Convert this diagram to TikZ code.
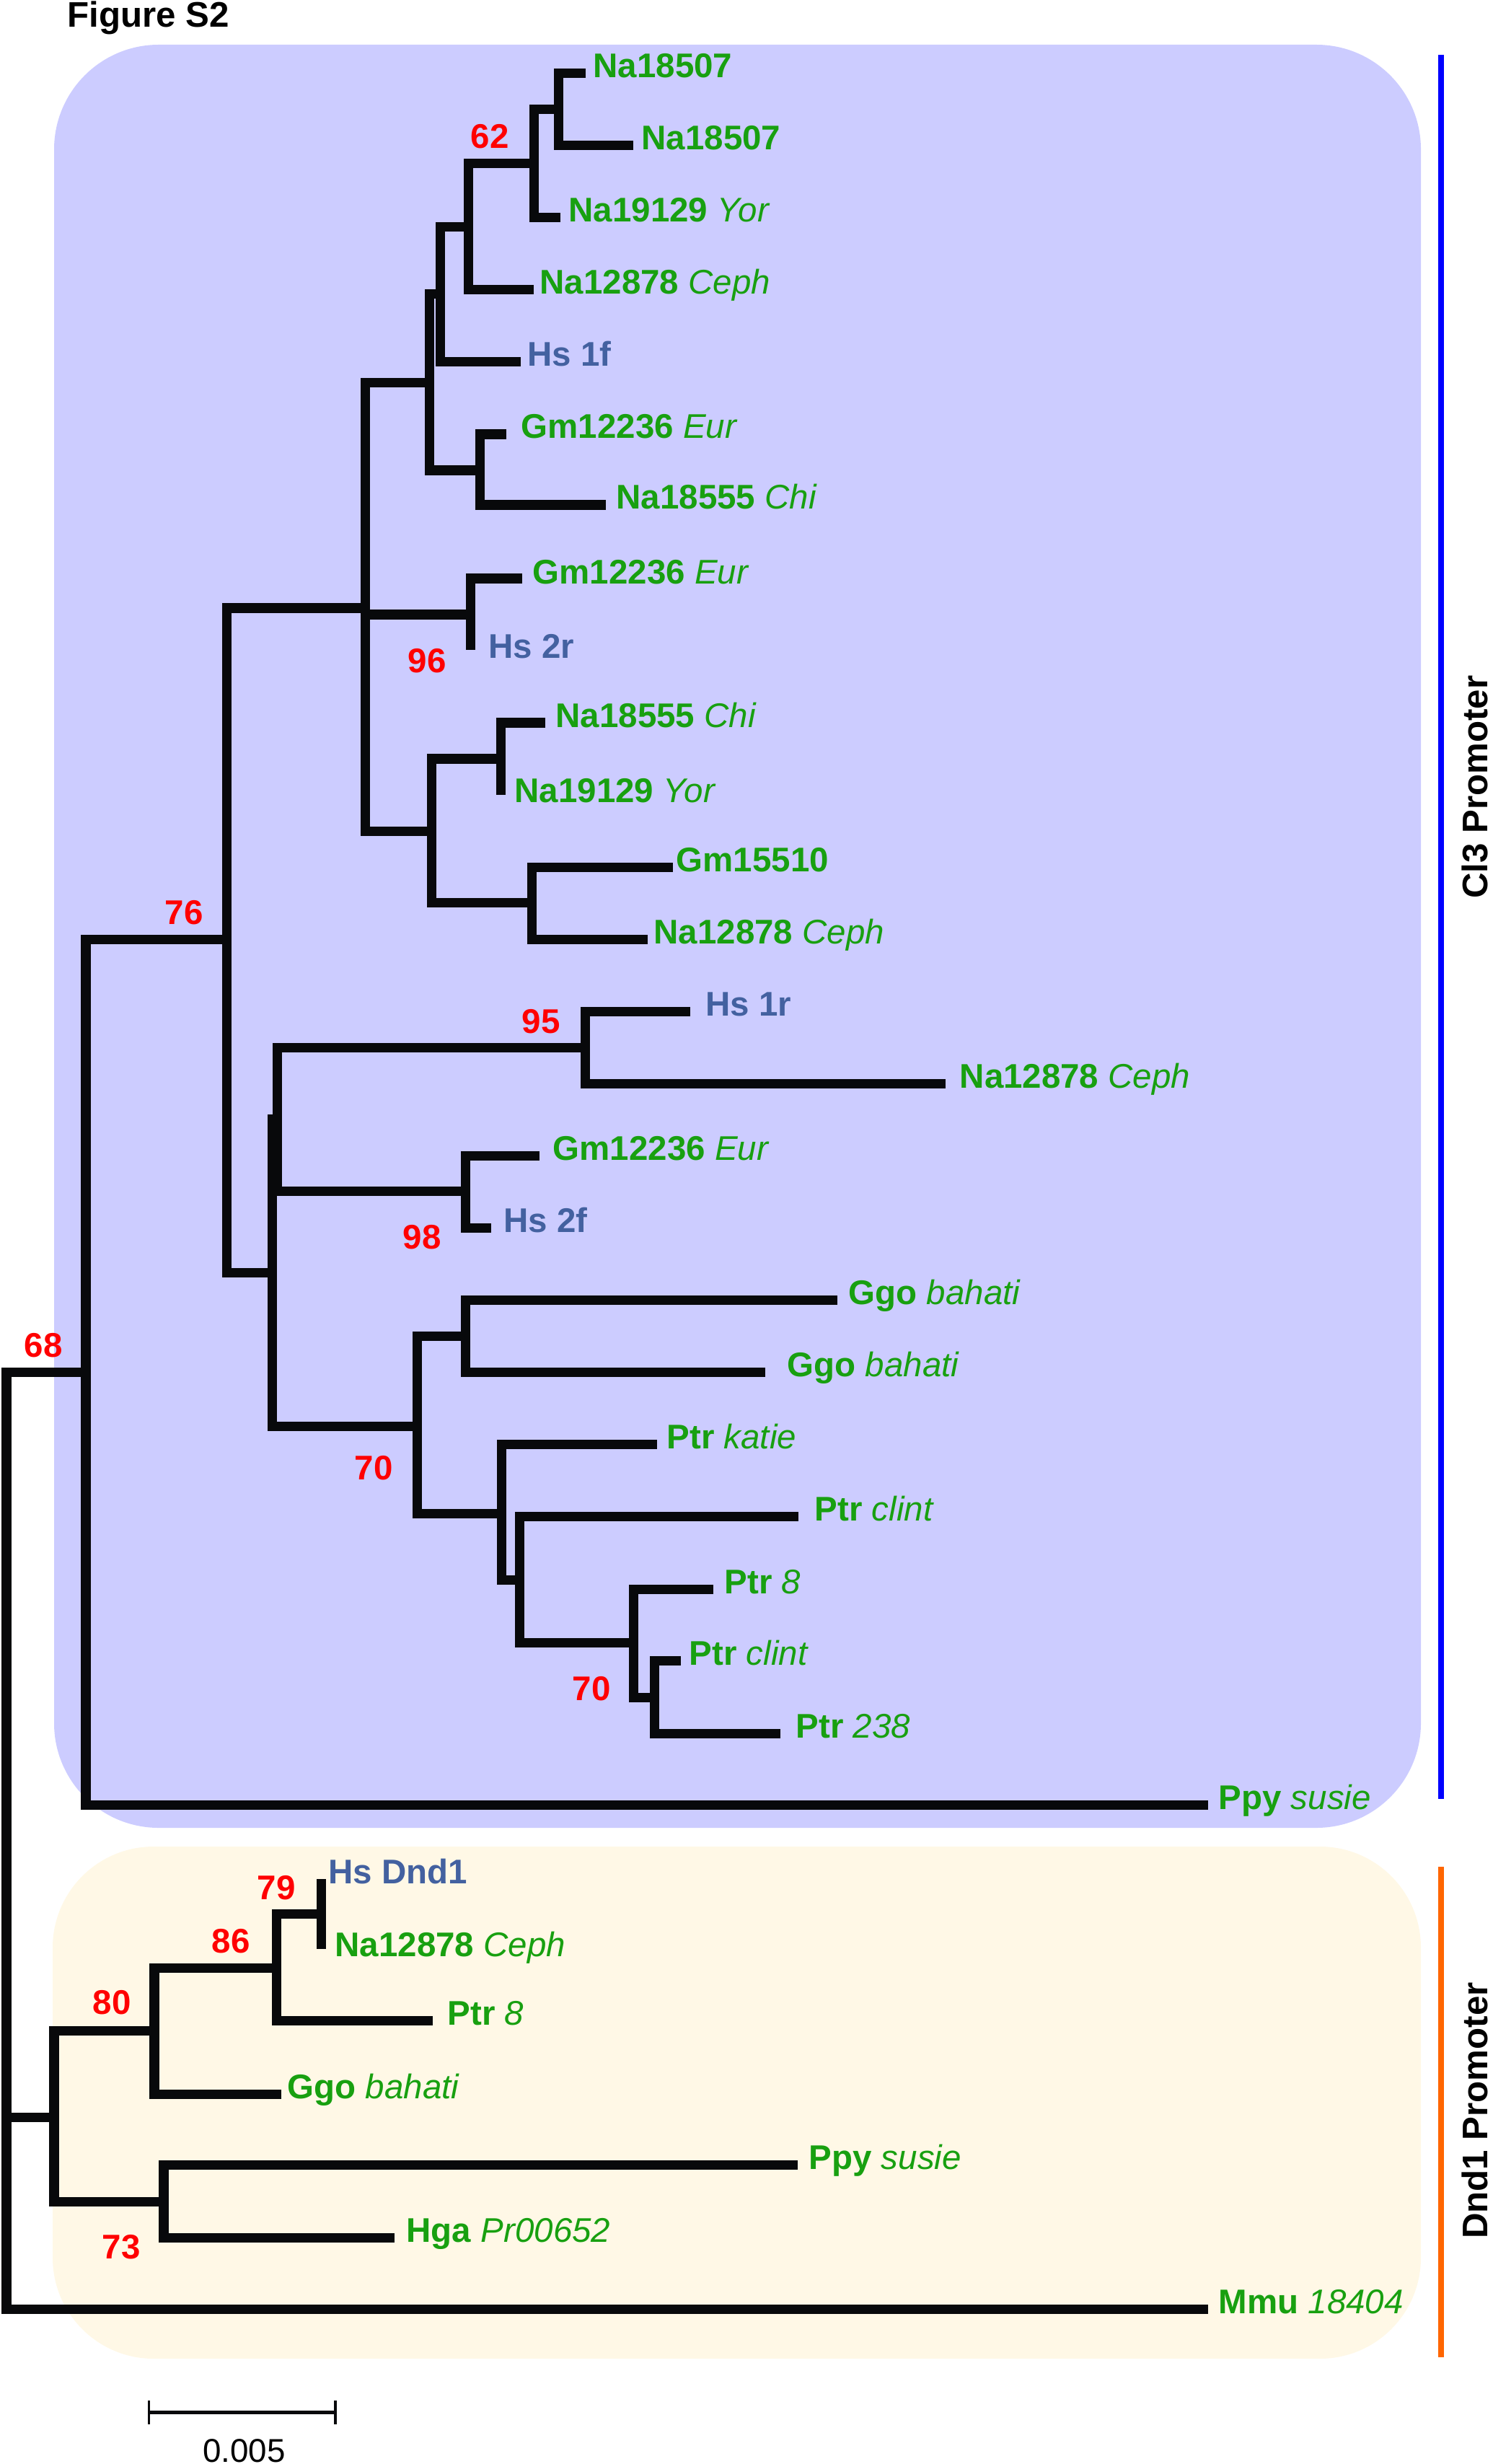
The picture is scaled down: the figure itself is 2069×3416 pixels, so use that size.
\documentclass[tikz,border=0pt]{standalone}
\usepackage{fontspec}
\setmainfont{Liberation Sans}
\definecolor{treeblack}{RGB}{8,9,11}
\definecolor{labgreen}{RGB}{24,160,16}
\definecolor{hsblue}{RGB}{67,97,160}
\definecolor{bsred}{RGB}{255,0,0}
\definecolor{cladeblue}{RGB}{204,204,255}
\definecolor{cladeyellow}{RGB}{255,248,230}
\definecolor{barblue}{RGB}{0,0,255}
\definecolor{barorange}{RGB}{255,102,0}
\begin{document}
\begin{tikzpicture}[x=0.01cm,y=-0.01cm,
  br/.style={line width=0.13cm, draw=treeblack, line join=miter},
  lab/.style={anchor=base west, inner sep=0pt, font=\fontsize{13.5}{16}\selectfont, text=labgreen},
  hslab/.style={lab, text=hsblue},
  bsv/.style={anchor=base west, inner sep=0pt, font=\bfseries\fontsize{13.5}{16}\selectfont, text=bsred},
  barlab/.style={rotate=90, anchor=base, inner sep=0pt, font=\bfseries\fontsize{14}{16}\selectfont, text=black}]
\useasboundingbox (0,0) rectangle (2069,3416);
% clade backgrounds
\fill[cladeblue, rounded corners=1.45cm] (75,62) rectangle (1970,2534);
\fill[cladeyellow, rounded corners=1.4cm] (73,2560) rectangle (1970,3270);
% side bars
\coordinate (bb1) at (1998,76); \coordinate (bb2) at (1998,2494);
\coordinate (ob1) at (1998,2588); \coordinate (ob2) at (1998,3268);
\draw[line width=0.08cm, barblue] (bb1) -- (bb2);
\draw[line width=0.08cm, barorange] (ob1) -- (ob2);
\node[barlab] (cl3) at (2062,1091) {Cl3 Promoter};
\node[barlab] (dnd) at (2062,2926) {Dnd1 Promoter};
% title
\node[anchor=base west, inner sep=0pt, font=\bfseries\fontsize{14}{16}\selectfont] (title) at (93,38) {Figure S2};
% leaf tips
\coordinate (t1) at (812,102);
\coordinate (t2) at (878,202);
\coordinate (t3) at (777,302);
\coordinate (t4) at (740,402);
\coordinate (t5) at (722,502);
\coordinate (t6) at (702,602);
\coordinate (t7) at (840,700);
\coordinate (t8) at (724,802);
\coordinate (t9) at (652,901);
\coordinate (t10) at (756,1002);
\coordinate (t11) at (694,1102);
\coordinate (t12) at (933,1202);
\coordinate (t13) at (898,1302);
\coordinate (t14) at (957,1402);
\coordinate (t15) at (1311,1502);
\coordinate (t16) at (748,1602);
\coordinate (t17) at (681,1702);
\coordinate (t18) at (1161,1802);
\coordinate (t19) at (1061,1902);
\coordinate (t20) at (911,2002);
\coordinate (t21) at (1107,2102);
\coordinate (t22) at (989,2203);
\coordinate (t23) at (944,2302);
\coordinate (t24) at (1082,2403);
\coordinate (t25) at (1675,2502);
\coordinate (t26) at (445,2605);
\coordinate (t27) at (445,2702);
\coordinate (t28) at (600,2801);
\coordinate (t29) at (390,2903);
\coordinate (t30) at (1106,3001);
\coordinate (t31) at (547,3102);
\coordinate (t32) at (1675,3201);
% internal nodes
\coordinate (n1) at (774,152);
\coordinate (n2) at (740,227);
\coordinate (n3) at (649,315);
\coordinate (n4) at (610,408);
\coordinate (n5) at (665,652);
\coordinate (n6) at (595,531);
\coordinate (n7) at (652,852);
\coordinate (n8) at (694,1052);
\coordinate (n9) at (737,1251);
\coordinate (n10) at (598,1152);
\coordinate (n11) at (506,843);
\coordinate (n12) at (811,1452);
\coordinate (n13) at (645,1651);
\coordinate (n14) at (384,1551);
\coordinate (n15) at (377,1764);
\coordinate (n16) at (645,1852);
\coordinate (n17) at (907,2353);
\coordinate (n18) at (878,2277);
\coordinate (n19) at (720,2190);
\coordinate (n20) at (695,2098);
\coordinate (n21) at (578,1977);
\coordinate (n22) at (314,1302);
\coordinate (n23) at (119,1902);
\coordinate (d1) at (445,2653);
\coordinate (d2) at (383,2728);
\coordinate (d3) at (214,2815);
\coordinate (d4) at (227,3052);
\coordinate (d5) at (75,2935);
\coordinate (root) at (9,2411);
% branches
\draw[br] (n1) |- (t1); \draw[br] (n1) |- (t2);
\draw[br] (n2) |- (n1); \draw[br] (n2) |- (t3);
\draw[br] (n3) |- (n2); \draw[br] (n3) |- (t4);
\draw[br] (n4) |- (n3); \draw[br] (n4) |- (t5);
\draw[br] (n5) |- (t6); \draw[br] (n5) |- (t7);
\draw[br] (n6) |- (n4); \draw[br] (n6) |- (n5);
\draw[br] (n7) |- (t8); \draw[br] (n7) |- (t9);
\draw[br] (n8) |- (t10); \draw[br] (n8) |- (t11);
\draw[br] (n9) |- (t12); \draw[br] (n9) |- (t13);
\draw[br] (n10) |- (n8); \draw[br] (n10) |- (n9);
\draw[br] (n11) |- (n6); \draw[br] (n11) |- (n7); \draw[br] (n11) |- (n10);
\draw[br] (n12) |- (t14); \draw[br] (n12) |- (t15);
\draw[br] (n13) |- (t16); \draw[br] (n13) |- (t17);
\draw[br] (n14) |- (n12); \draw[br] (n14) |- (n13);
\draw[br] (n15) |- (n14); \draw[br] (n15) |- (n21);
\draw[br] (n16) |- (t18); \draw[br] (n16) |- (t19);
\draw[br] (n17) |- (t23); \draw[br] (n17) |- (t24);
\draw[br] (n18) |- (t22); \draw[br] (n18) |- (n17);
\draw[br] (n19) |- (t21); \draw[br] (n19) |- (n18);
\draw[br] (n20) |- (t20); \draw[br] (n20) |- (n19);
\draw[br] (n21) |- (n16); \draw[br] (n21) |- (n20);
\draw[br] (n22) |- (n11); \draw[br] (n22) |- (n15);
\draw[br] (n23) |- (n22); \draw[br] (n23) |- (t25);
\draw[br] (d1) |- (t26); \draw[br] (d1) |- (t27);
\draw[br] (d2) |- (d1); \draw[br] (d2) |- (t28);
\draw[br] (d3) |- (d2); \draw[br] (d3) |- (t29);
\draw[br] (d4) |- (t30); \draw[br] (d4) |- (t31);
\draw[br] (d5) |- (d3); \draw[br] (d5) |- (d4);
\draw[br] (root) |- (n23); \draw[br] (root) |- (d5); \draw[br] (root) |- (t32);
% leaf labels
\node[lab] (l1) at (822,108) {\textbf{Na18507}};
\node[lab] (l2) at (889,208) {\textbf{Na18507}};
\node[lab] (l3) at (788,308) {\textbf{Na19129} \textit{Yor}};
\node[lab] (l4) at (748,408) {\textbf{Na12878} \textit{Ceph}};
\node[hslab] (l5) at (731,508) {\textbf{Hs 1f}};
\node[lab] (l6) at (722,608) {\textbf{Gm12236} \textit{Eur}};
\node[lab] (l7) at (854,706) {\textbf{Na18555} \textit{Chi}};
\node[lab] (l8) at (738,810) {\textbf{Gm12236} \textit{Eur}};
\node[hslab] (l9) at (677,912) {\textbf{Hs 2r}};
\node[lab] (l10) at (770,1008) {\textbf{Na18555} \textit{Chi}};
\node[lab] (l11) at (713,1112) {\textbf{Na19129} \textit{Yor}};
\node[lab] (l12) at (937,1208) {\textbf{Gm15510}};
\node[lab] (l13) at (906,1308) {\textbf{Na12878} \textit{Ceph}};
\node[hslab] (l14) at (978,1408) {\textbf{Hs 1r}};
\node[lab] (l15) at (1330,1508) {\textbf{Na12878} \textit{Ceph}};
\node[lab] (l16) at (766,1608) {\textbf{Gm12236} \textit{Eur}};
\node[hslab] (l17) at (698,1708) {\textbf{Hs 2f}};
\node[lab] (l18) at (1176,1808) {\textbf{Ggo} \textit{bahati}};
\node[lab] (l19) at (1091,1908) {\textbf{Ggo} \textit{bahati}};
\node[lab] (l20) at (924,2008) {\textbf{Ptr} \textit{katie}};
\node[lab] (l21) at (1129,2108) {\textbf{Ptr} \textit{clint}};
\node[lab] (l22) at (1004,2209) {\textbf{Ptr} \textit{8}};
\node[lab] (l23) at (955,2308) {\textbf{Ptr} \textit{clint}};
\node[lab] (l24) at (1103,2409) {\textbf{Ptr} \textit{238}};
\node[lab] (l25) at (1689,2508) {\textbf{Ppy} \textit{susie}};
\node[hslab] (l26) at (455,2611) {\textbf{Hs Dnd1}};
\node[lab] (l27) at (464,2712) {\textbf{Na12878} \textit{Ceph}};
\node[lab] (l28) at (620,2807) {\textbf{Ptr} \textit{8}};
\node[lab] (l29) at (398,2909) {\textbf{Ggo} \textit{bahati}};
\node[lab] (l30) at (1121,3007) {\textbf{Ppy} \textit{susie}};
\node[lab] (l31) at (563,3108) {\textbf{Hga} \textit{Pr00652}};
\node[lab] (l32) at (1689,3207) {\textbf{Mmu} \textit{18404}};
% bootstrap values
\node[bsv] (b62) at (652,206) {62};
\node[bsv] (b96) at (565,932) {96};
\node[bsv] (b76) at (228,1281) {76};
\node[bsv] (b95) at (723,1432) {95};
\node[bsv] (b98) at (558,1731) {98};
\node[bsv] (b68) at (33,1881) {68};
\node[bsv] (b70a) at (491,2051) {70};
\node[bsv] (b70b) at (793,2357) {70};
\node[bsv] (b79) at (356,2633) {79};
\node[bsv] (b86) at (293,2707) {86};
\node[bsv] (b80) at (128,2792) {80};
\node[bsv] (b73) at (141,3131) {73};
% scale bar
\coordinate (sbl) at (206.5,3344); \coordinate (sbr) at (465,3344);
\coordinate (sblt) at (206.5,3328); \coordinate (sblb) at (206.5,3361);
\coordinate (sbrt) at (465,3328); \coordinate (sbrb) at (465,3361);
\draw[line width=0.05cm, treeblack] (sbl) -- (sbr);
\draw[line width=0.035cm, treeblack] (sblt) -- (sblb);
\draw[line width=0.035cm, treeblack] (sbrt) -- (sbrb);
\node[anchor=base, inner sep=0pt, font=\fontsize{13}{16}\selectfont] (sbt) at (338.5,3413) {0.005};
\end{tikzpicture}
\end{document}
